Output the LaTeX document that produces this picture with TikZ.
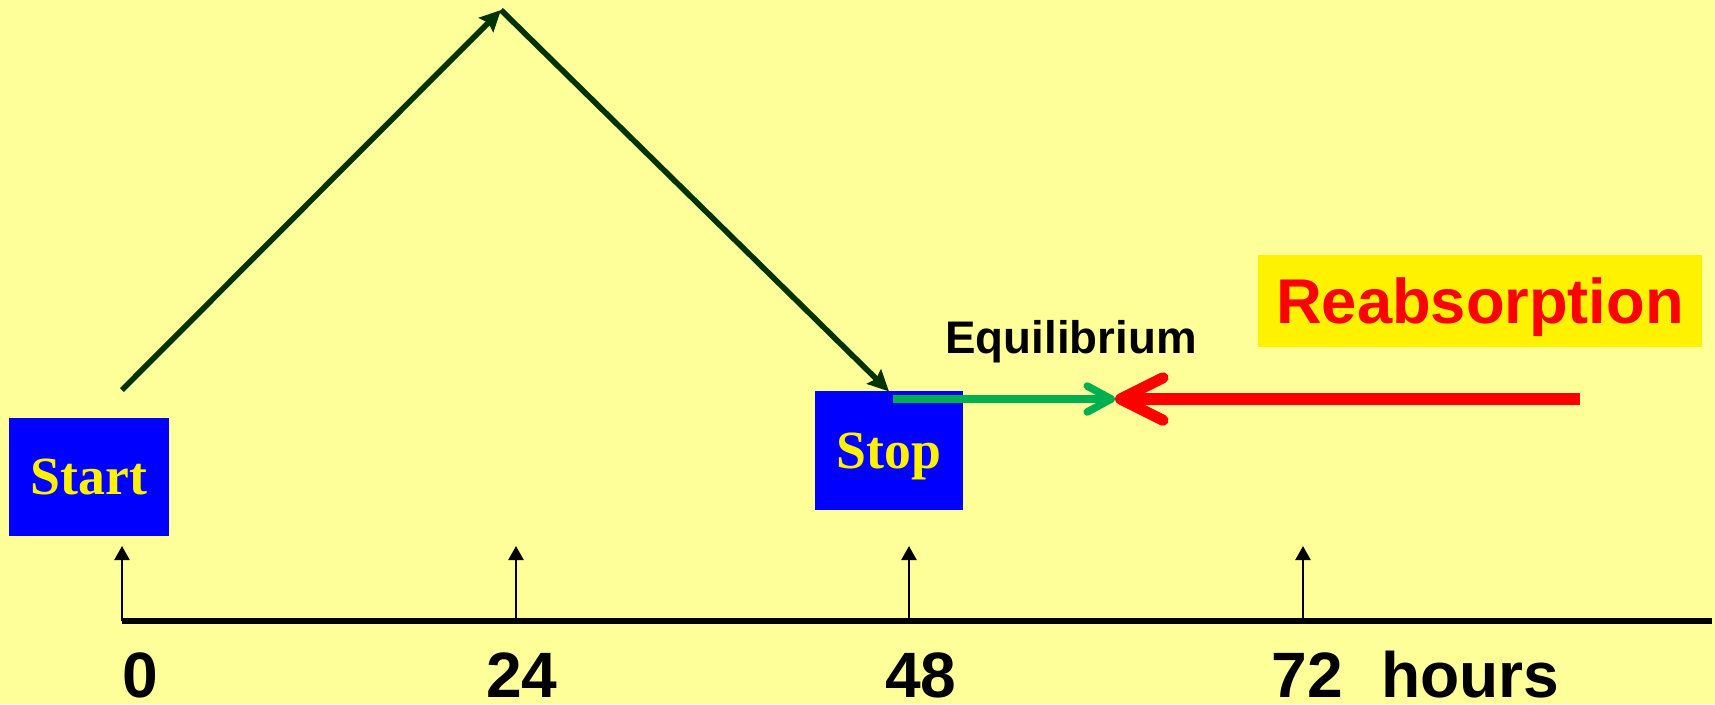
\documentclass[tikz,border=0pt]{standalone}
\usepackage{fontspec}
\setmainfont{Liberation Serif}
\newfontfamily\arialfont{Liberation Sans}
\usetikzlibrary{arrows.meta,positioning}
\definecolor{bgyellow}{HTML}{FFFF99}
\definecolor{boxblue}{HTML}{0000FF}
\definecolor{darkgreen}{HTML}{003300}
\definecolor{eqgreen}{HTML}{00B050}

\begin{document}
\begin{tikzpicture}[x=0.02cm, y=-0.02cm,
  phase/.style={fill=boxblue, text=yellow, inner sep=0pt, minimum height=2.35cm, text depth=0pt, font=\bfseries\fontsize{30.6pt}{32pt}\selectfont},
  rise/.style={darkgreen, line width=3.2pt, -{Stealth[length=0.42cm, width=0.4cm, inset=0.06cm]}},
  toeq/.style={eqgreen, line width=4.3pt, -{Straight Barb[length=0.48cm, width=0.52cm, round]}},
  back/.style={red, line width=6.3pt, -{Straight Barb[length=0.85cm, width=0.85cm, round]}},
  tickarr/.style={line width=1.3pt, -{Triangle[length=0.28cm, width=0.3cm]}},
  axislab/.style={anchor=base, inner sep=0pt, font=\arialfont\bfseries\fontsize{36.5pt}{38pt}\selectfont}
]
% background and page size
\fill[bgyellow] (0,0) rectangle (1715,704);
\useasboundingbox (0,0) rectangle (1715,704);

\coordinate (rise) at (122,390);
\coordinate (peak) at (501,10);
\coordinate (eqstart) at (893,399);
\coordinate (eq) at (1115,399);
\coordinate (reabstart) at (1580,399);

\draw[rise] (rise) -- (peak);
\node[phase, minimum width=2.954cm] (stop) at (889,450.5) {Stop};
\draw[rise] (peak) -- (stop.north);
\node[phase, minimum width=3.2cm] (start) at (89,477) {Start};
\fill[boxblue] (stop.north west) rectangle (stop.south east);
\node[phase, fill=none] at (stop) {Stop};

% meeting arrows
\draw[toeq] (eqstart) -- (eq);
\draw[back] (reabstart) -- (eq);
\node[inner sep=0pt, text depth=0pt, font=\arialfont\bfseries\fontsize{26pt}{28pt}\selectfont] (equil) at (1071,337) {Equilibrium};
\node[fill=yellow, text=red, inner sep=0pt, minimum width=8.88cm, minimum height=1.84cm, text depth=0pt, font=\arialfont\bfseries\fontsize{36pt}{38pt}\selectfont] (reab) at (1480,301) {Reabsorption};

% time axis
\coordinate (origin) at (122,621);
\coordinate (axisend) at (1712,621);
\draw[line width=3pt] (origin) -- (axisend);
\foreach \t/\lx/\lab in {122/140/0, 516/522/24, 909/921/48, 1303/1307/72} {
  \coordinate (tick\lab) at (\t,621);
  \coordinate (tip\lab) at (\t,546);
  \draw[tickarr] (tick\lab) -- (tip\lab);
  \node[axislab] (lab\lab) at (\lx,697) {\lab};
}
\node[axislab, anchor=base west] (hours) at (1381,697) {hours};
\end{tikzpicture}
\end{document}
